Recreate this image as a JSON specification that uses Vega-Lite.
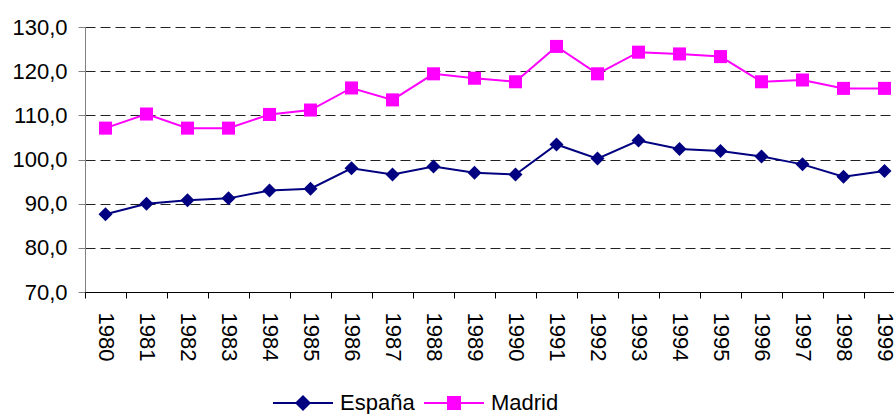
{
  "$schema": "https://vega.github.io/schema/vega-lite/v6.json",
  "width": 820,
  "height": 265,
  "autosize": {"type": "none"},
  "padding": {"left": 85, "top": 27, "right": -11, "bottom": 122},
  "background": "white",
  "config": {
    "view": {"stroke": null},
    "font": "Liberation Sans",
    "axis": {
      "labelFont": "Liberation Sans",
      "labelFontSize": 22,
      "labelColor": "#000000",
      "title": null
    }
  },
  "data": {
    "values": [
      {"year": "1980", "serie": "España", "value": 87.6},
      {"year": "1981", "serie": "España", "value": 90.0},
      {"year": "1982", "serie": "España", "value": 90.8},
      {"year": "1983", "serie": "España", "value": 91.2},
      {"year": "1984", "serie": "España", "value": 93.0},
      {"year": "1985", "serie": "España", "value": 93.4},
      {"year": "1986", "serie": "España", "value": 98.0},
      {"year": "1987", "serie": "España", "value": 96.6},
      {"year": "1988", "serie": "España", "value": 98.4},
      {"year": "1989", "serie": "España", "value": 97.0},
      {"year": "1990", "serie": "España", "value": 96.6},
      {"year": "1991", "serie": "España", "value": 103.4},
      {"year": "1992", "serie": "España", "value": 100.2},
      {"year": "1993", "serie": "España", "value": 104.3},
      {"year": "1994", "serie": "España", "value": 102.4},
      {"year": "1995", "serie": "España", "value": 101.9},
      {"year": "1996", "serie": "España", "value": 100.7},
      {"year": "1997", "serie": "España", "value": 98.9},
      {"year": "1998", "serie": "España", "value": 96.1},
      {"year": "1999", "serie": "España", "value": 97.4},
      {"year": "1980", "serie": "Madrid", "value": 107.1},
      {"year": "1981", "serie": "Madrid", "value": 110.3},
      {"year": "1982", "serie": "Madrid", "value": 107.1},
      {"year": "1983", "serie": "Madrid", "value": 107.1},
      {"year": "1984", "serie": "Madrid", "value": 110.2},
      {"year": "1985", "serie": "Madrid", "value": 111.2},
      {"year": "1986", "serie": "Madrid", "value": 116.2},
      {"year": "1987", "serie": "Madrid", "value": 113.5},
      {"year": "1988", "serie": "Madrid", "value": 119.4},
      {"year": "1989", "serie": "Madrid", "value": 118.4},
      {"year": "1990", "serie": "Madrid", "value": 117.6},
      {"year": "1991", "serie": "Madrid", "value": 125.6},
      {"year": "1992", "serie": "Madrid", "value": 119.4},
      {"year": "1993", "serie": "Madrid", "value": 124.3},
      {"year": "1994", "serie": "Madrid", "value": 123.9},
      {"year": "1995", "serie": "Madrid", "value": 123.3},
      {"year": "1996", "serie": "Madrid", "value": 117.6},
      {"year": "1997", "serie": "Madrid", "value": 118.0},
      {"year": "1998", "serie": "Madrid", "value": 116.1},
      {"year": "1999", "serie": "Madrid", "value": 116.1}
    ]
  },
  "encoding": {
    "x": {
      "field": "year",
      "type": "ordinal",
      "sort": null,
      "scale": {"type": "band", "paddingInner": 0, "paddingOuter": 0},
      "axis": {
        "labelAngle": 90,
        "labelAlign": "left",
        "labelBaseline": "middle",
        "labelPadding": 14,
        "tickBand": "extent",
        "tickSize": 6,
        "tickColor": "#000000",
        "domainColor": "#000000",
        "domainWidth": 1,
        "grid": false,
        "labelOverlap": false,
        "zindex": 1
      }
    },
    "y": {
      "field": "value",
      "type": "quantitative",
      "scale": {"domain": [70, 130], "nice": false, "zero": false},
      "axis": {
        "values": [70, 80, 90, 100, 110, 120, 130],
        "labelExpr": "replace(format(datum.value, '.1f'), '.', ',')",
        "tickSize": 7,
        "tickColor": "#808080",
        "domainColor": "#808080",
        "labelPadding": 11,
        "grid": true,
        "gridColor": "#222222",
        "gridDash": [10, 5],
        "gridWidth": 1,
        "labelOverlap": false
      }
    },
    "color": {
      "field": "serie",
      "type": "nominal",
      "scale": {"domain": ["España", "Madrid"], "range": ["#000080", "#FF00FF"]},
      "legend": {
        "orient": "none",
        "legendX": 187,
        "legendY": 345,
        "direction": "horizontal",
        "title": null,
        "labelFont": "Liberation Sans",
        "labelFontSize": 22,
        "labelColor": "#000000",
        "labelOffset": 6,
        "columnPadding": 5,
        "symbolSize": 3600,
        "symbolStrokeWidth": 2,
        "encode": {
          "symbols": {
            "update": {
              "shape": {"signal": "datum.value === 'España' ? 'M-1,0L1,0M-0.22,0L0,-0.22L0.22,0L0,0.22Z' : 'M-1,0L1,0M-0.2,-0.2L0.2,-0.2L0.2,0.2L-0.2,0.2Z'"},
              "fill": {"scale": "color", "field": "value"},
              "stroke": {"scale": "color", "field": "value"},
              "strokeWidth": {"value": 2},
              "opacity": {"value": 1},
              "fillOpacity": {"value": 1}
            }
          }
        }
      }
    }
  },
  "layer": [
    {"mark": {"type": "line", "strokeWidth": 2}},
    {
      "transform": [{"filter": "datum.serie === 'España'"}],
      "mark": {"type": "point", "filled": true, "opacity": 1, "size": 196, "shape": "diamond"}
    },
    {
      "transform": [{"filter": "datum.serie === 'Madrid'"}],
      "mark": {"type": "point", "filled": true, "opacity": 1, "size": 170, "shape": "square"}
    }
  ]
}
